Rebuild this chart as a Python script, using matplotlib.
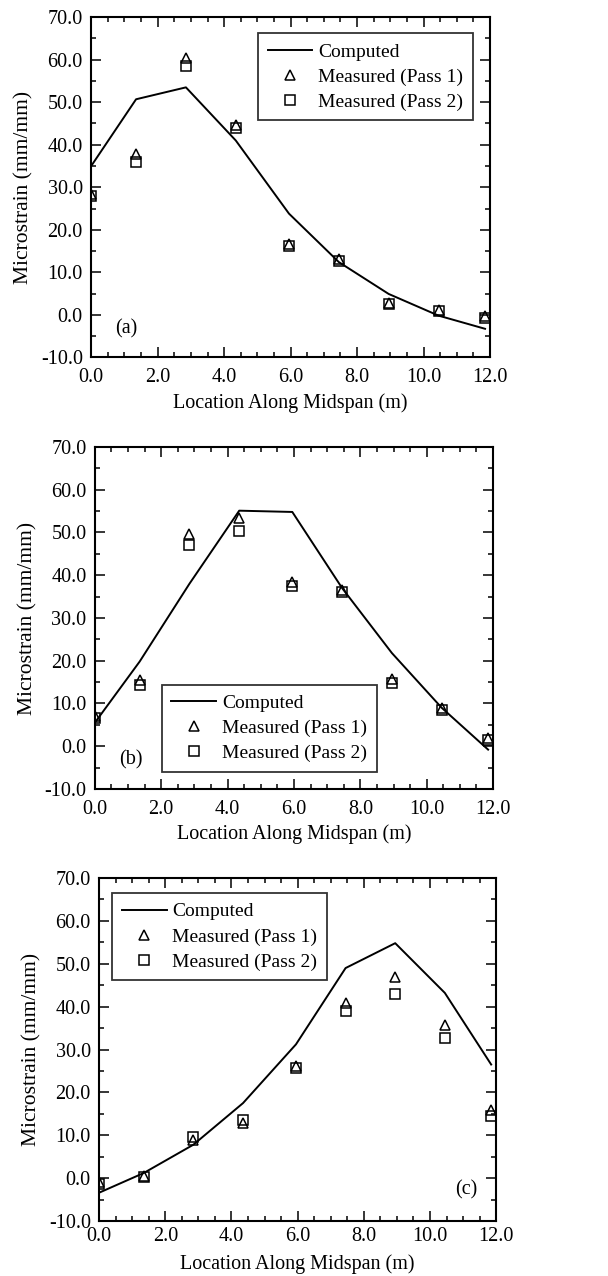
import matplotlib.pyplot as plt
from matplotlib.ticker import MultipleLocator, FormatStrFormatter

plt.rcParams['font.family'] = ['Liberation Serif', 'DejaVu Serif']

x = [0.0, 1.35, 2.85, 4.35, 5.95, 7.45, 8.95, 10.45, 11.85]

# panel (a)
comp_a = [35.0, 50.7, 53.5, 41.0, 23.8, 12.4, 4.9, -0.2, -3.3]
pass1_a = [28.5, 37.8, 60.4, 44.7, 16.6, 13.2, 2.8, 1.2, -0.2]
pass2_a = [28.0, 35.9, 58.5, 44.0, 16.2, 12.7, 2.5, 0.9, -0.7]

# panel (b)
comp_b = [5.5, 19.8, 38.0, 55.1, 54.8, 37.0, 21.8, 9.0, -0.8]
pass1_b = [7.0, 15.6, 49.6, 53.3, 38.3, 36.5, 15.7, 9.0, 2.0]
pass2_b = [6.6, 14.4, 47.0, 50.3, 37.4, 36.0, 14.8, 8.4, 1.5]

# panel (c)
comp_c = [-3.4, 1.2, 7.8, 17.5, 31.2, 49.0, 54.8, 43.2, 26.5]
pass1_c = [-1.0, 0.6, 8.8, 12.8, 26.2, 40.8, 46.8, 35.8, 16.0]
pass2_c = [-1.3, 0.3, 9.7, 13.6, 25.7, 38.9, 43.0, 32.7, 14.4]

panels = [
    ("(a)", comp_a, pass1_a, pass2_a),
    ("(b)", comp_b, pass1_b, pass2_b),
    ("(c)", comp_c, pass1_c, pass2_c),
]

axes_rects = [
    [0.150, 0.720, 0.656, 0.2665],
    [0.156, 0.3817, 0.655, 0.268],
    [0.163, 0.0431, 0.653, 0.2688],
]

legend_opts = [
    dict(loc="upper right", bbox_to_anchor=(0.957, 0.953)),
    dict(loc="lower left", bbox_to_anchor=(0.168, 0.05)),
    dict(loc="upper left", bbox_to_anchor=(0.033, 0.956)),
]

label_pos = [(0.06, 0.085, "left"), (0.06, 0.085, "left"), (0.952, 0.09, "right")]
xpads = [8, 8, 4]
xlabelpads = [4, 4, 6]

fig = plt.figure(figsize=(6.08, 12.76), dpi=100)

for i, (tag, comp, p1, p2) in enumerate(panels):
    ax = fig.add_axes(axes_rects[i])
    ax.plot(x, comp, color="black", lw=1.4, label="Computed")
    ax.plot(x, p1, linestyle="none", marker="^", markersize=7, mfc="none",
            mec="black", mew=1.1, label="Measured (Pass 1)")
    ax.plot(x, p2, linestyle="none", marker="s", markersize=6.5, mfc="none",
            mec="black", mew=1.1, label="Measured (Pass 2)")

    ax.set_xlim(0, 12)
    ax.set_ylim(-10, 70)
    ax.xaxis.set_major_locator(MultipleLocator(2))
    ax.xaxis.set_minor_locator(MultipleLocator(0.5))
    ax.yaxis.set_major_locator(MultipleLocator(10))
    ax.yaxis.set_minor_locator(MultipleLocator(5))
    ax.xaxis.set_major_formatter(FormatStrFormatter("%.1f"))
    ax.yaxis.set_major_formatter(FormatStrFormatter("%.1f"))
    ax.tick_params(which="both", direction="in", top=True, right=True,
                   labelsize=14.5, width=1.1)
    ax.tick_params(which="major", length=7)
    ax.tick_params(which="minor", length=3.5)
    ax.tick_params(axis="y", which="major", pad=6)
    ax.tick_params(axis="x", which="major", pad=xpads[i])
    for s in ax.spines.values():
        s.set_linewidth(1.5)

    ax.set_xlabel("Location Along Midspan (m)", fontsize=14.5, labelpad=xlabelpads[i])
    ax.set_ylabel("Microstrain (mm/mm)", fontsize=15.5, labelpad=5)

    lx, ly, ha = label_pos[i]
    ax.text(lx, ly, tag, transform=ax.transAxes, fontsize=14.5, ha=ha, va="center")

    leg = ax.legend(fontsize=14, frameon=True, fancybox=False, edgecolor="black",
                    handlelength=2.3, handletextpad=0.3, borderpad=0.5,
                    labelspacing=0.38, borderaxespad=0, **legend_opts[i])
    leg.get_frame().set_linewidth(1.3)

fig.savefig("out.png", dpi=100)
